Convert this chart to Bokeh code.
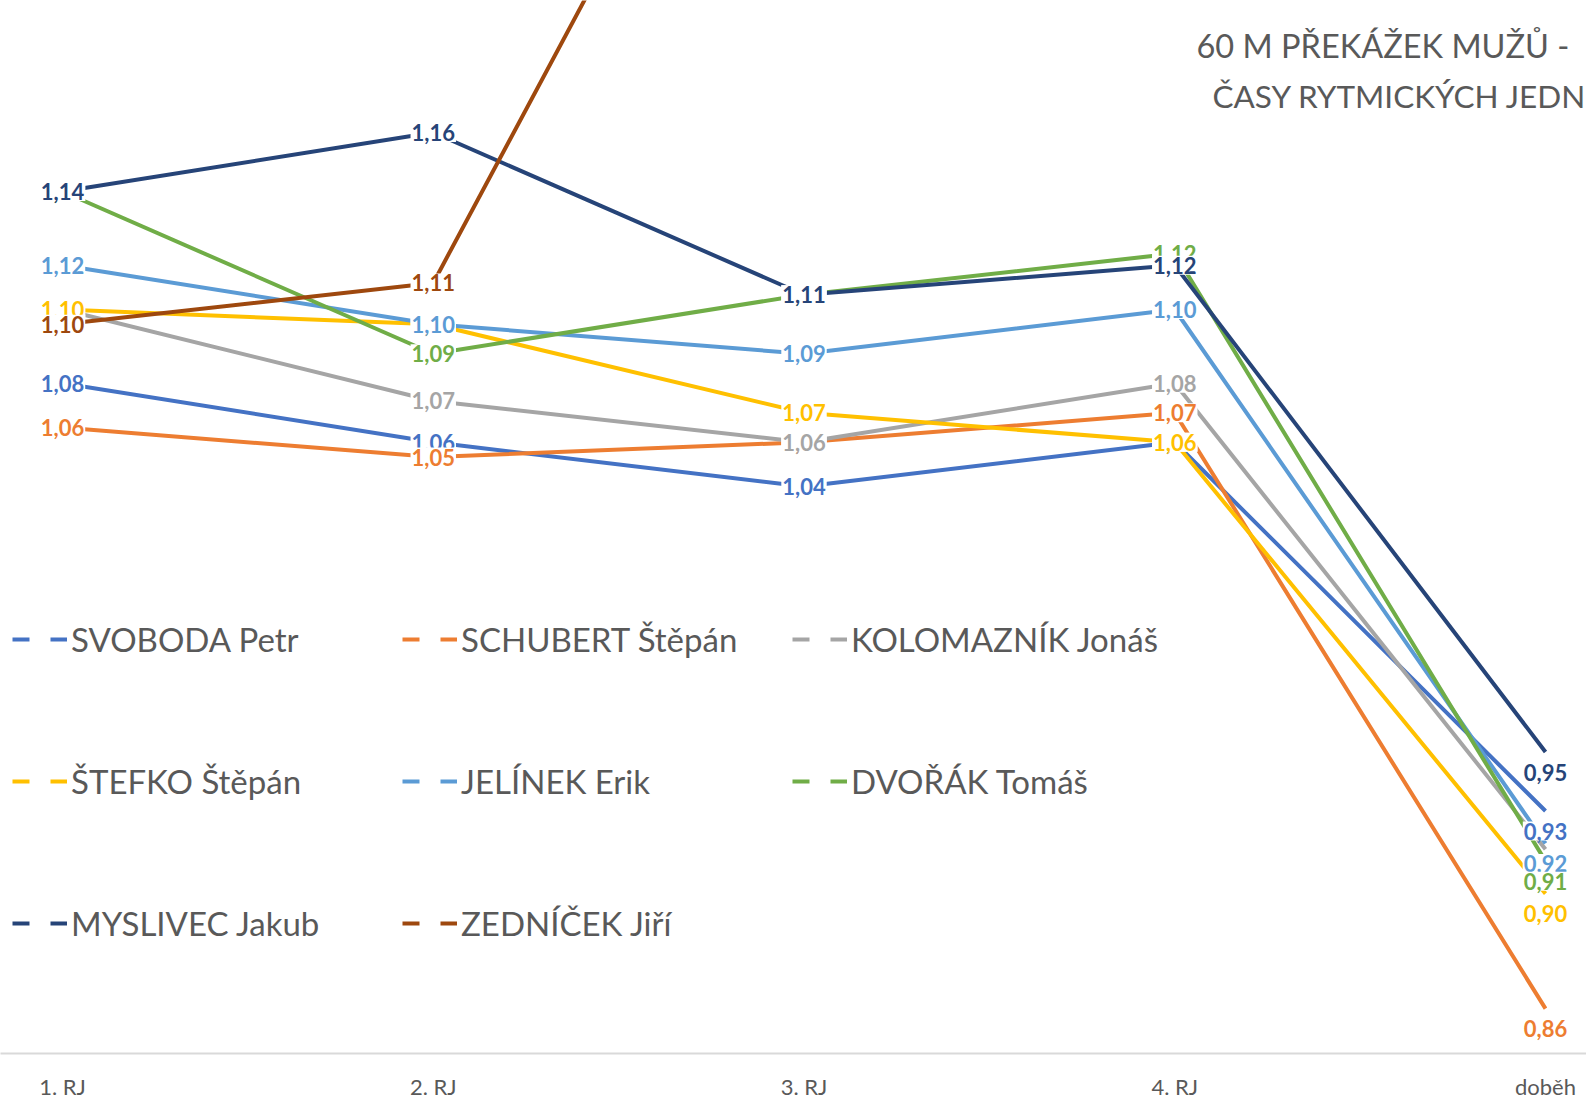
import math
from bokeh.plotting import figure
from bokeh.models import ColumnDataSource, Range1d, FixedTicker, Legend, LegendItem, Label
from bokeh.core.properties import value
from bokeh.embed import file_html
from bokeh.resources import INLINE

NAN = float("nan")

# ---- data ----
categories = ["1. RJ", "2. RJ", "3. RJ", "4. RJ", "doběh"]
names = ["SVOBODA Petr", "SCHUBERT Štěpán", "KOLOMAZNÍK Jonáš",
         "ŠTEFKO Štěpán", "JELÍNEK Erik", "DVOŘÁK Tomáš",
         "MYSLIVEC Jakub", "ZEDNÍČEK Jiří"]
colors = ["#4472C4", "#ED7D31", "#A5A5A5", "#FFC000",
          "#5B9BD5", "#70AD47", "#264478", "#9E480E"]

svoboda = [1.076, 1.056, 1.041, 1.056, 0.931]
schubert = [1.061, 1.051, 1.056, 1.066, 0.864]
kolomaznik = [1.101, 1.070, 1.056, 1.076, 0.918]
stefko = [1.101, 1.096, 1.066, 1.056, 0.903]
jelinek = [1.116, 1.096, 1.086, 1.101, 0.920]
dvorak = [1.141, 1.086, 1.106, 1.120, 0.914]
myslivec = [1.141, 1.161, 1.106, 1.116, 0.951]
zednicek = [1.096, 1.110, 1.345, NAN, NAN]

series = [svoboda, schubert, kolomaznik, stefko, jelinek, dvorak, myslivec, zednicek]

# title as visible in the (cropped) reference
title_lines = ["60 M PŘEKÁŽEK MUŽŮ -", "ČASY RYTMICKÝCH JEDN"]

# ---- layout ----
W, H = 1586, 1104
FRAME_H = 1053
Y_START = 0.8488
PX_PER_UNIT = 2950.0
X_PX = 370.75
X0_PX = 62.0

x_range = Range1d(-X0_PX / X_PX, (W - X0_PX) / X_PX)
y_range = Range1d(Y_START, Y_START + FRAME_H / PX_PER_UNIT)

FONT = "Lato"
GRAY = "#595959"

p = figure(width=W, height=H, x_range=x_range, y_range=y_range,
           output_backend="svg", toolbar_location=None,
           y_axis_location=None, title=None,
           min_border_left=0, min_border_right=0, min_border_top=0,
           min_border_bottom=H - FRAME_H)
p.xgrid.visible = False
p.ygrid.visible = False
p.outline_line_color = None
p.background_fill_color = "white"
p.border_fill_color = "white"

ax = p.xaxis[0]
ax.ticker = FixedTicker(ticks=list(range(len(categories))))
ax.major_label_overrides = {i: c for i, c in enumerate(categories)}
ax.axis_label = None
ax.axis_line_color = "#D9D9D9"
ax.axis_line_width = 2
ax.major_tick_out = 0
ax.major_tick_in = 0
ax.minor_tick_out = 0
ax.minor_tick_in = 0
ax.major_tick_line_color = None
ax.minor_tick_line_color = None
ax.major_label_text_font = FONT
ax.major_label_text_font_size = "22px"
ax.major_label_text_color = GRAY
ax.major_label_standoff = 19

xs = list(range(len(categories)))

# lines
for vals, col in zip(series, colors):
    p.line(x=xs, y=vals, line_color=col, line_width=4, line_join="round")

# data labels (drawn after all lines, in series order)
lx, ly, lt, lc, ldy = [], [], [], [], []
ymax = y_range.end
for vals, col in zip(series, colors):
    for ci, v in enumerate(vals):
        if math.isnan(v) or v > ymax:
            continue
        lx.append(ci)
        ly.append(v)
        lt.append(f"{v:.2f}".replace(".", ","))
        lc.append(col)
        ldy.append(20 if ci == len(categories) - 1 else 0)

lab_src = ColumnDataSource(dict(x=lx, y=ly, text=lt, color=lc, dy=ldy))
p.text(x="x", y="y", text="text", source=lab_src, text_color="color",
       text_font=value(FONT), text_font_style="bold", text_font_size="22px",
       text_align="center", text_baseline="middle", y_offset="dy",
       background_fill_color="white", padding=1)

# legend with dashed samples (dummy renderers that draw nothing in the plot)
items = []
for n, col in zip(names, colors):
    r = p.line(x=[NAN, NAN], y=[NAN, NAN], line_color=col, line_width=4,
               line_dash="17 21")
    items.append(LegendItem(label=n, renderers=[r]))

legend = Legend(items=items, orientation="horizontal", ncols=3,
                location=(12, 59), glyph_width=55, glyph_height=142,
                label_height=142, label_width=331, label_standoff=4,
                spacing=0, padding=0, margin=0,
                background_fill_alpha=0, border_line_alpha=0,
                label_text_font=FONT, label_text_font_size="33px",
                label_text_color=GRAY)
p.add_layout(legend)

# title (right-hand side, as far as the reference shows it)
p.add_layout(Label(x=1196, y=FRAME_H - 45, x_units="screen", y_units="screen",
                   text=title_lines[0], text_font=FONT, text_font_size="32.5px",
                   text_color=GRAY, text_align="left", text_baseline="alphabetic"))
p.add_layout(Label(x=1212, y=FRAME_H - 95, x_units="screen", y_units="screen",
                   text=title_lines[1], text_font=FONT, text_font_size="31.5px",
                   text_color=GRAY, text_align="left", text_baseline="alphabetic"))

open("out.html", "w").write(file_html(p, INLINE))
